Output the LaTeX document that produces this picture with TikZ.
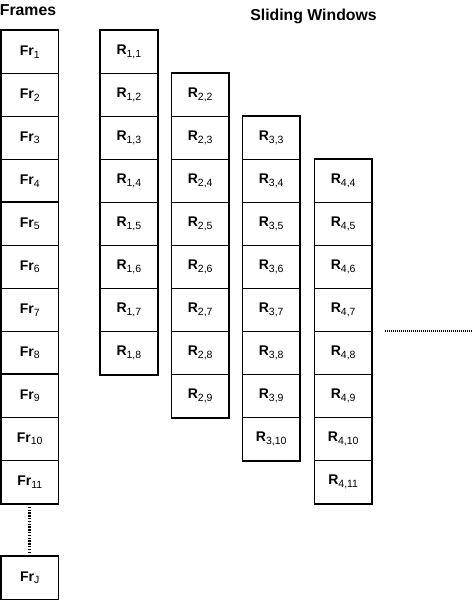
\documentclass[tikz,border=0pt]{standalone}
\usepackage{fontspec}
\setmainfont{Liberation Sans}
\begin{document}
\begin{tikzpicture}[x=1pt,y=-1pt,
  cell/.style={draw=black,line width=0.8pt,minimum width=57pt,minimum height=43pt,inner sep=0pt,anchor=north west,font=\fontsize{14}{16}\selectfont\bfseries},
  colframe/.style={draw=black,line width=1.6pt},
  ttl/.style={font=\fontsize{15.8}{18}\selectfont\bfseries,inner sep=0pt},
  dots/.style={line width=2.6pt,dash pattern=on 1.4pt off 1.4pt}]
\useasboundingbox (0,0) rectangle (472,600);
\fill[white] (0,0) rectangle (472,600);
\newcommand{\sub}[1]{\raisebox{-2.6pt}{\fontsize{10.5}{12}\selectfont\mdseries #1}}
% titles
\node[ttl] (tframes) at (28,10) {Frames};
\node[ttl] (tslide) at (313.5,16) {Sliding Windows};
% frames column
\foreach \i in {1,...,11}{
  \node[cell] (fr\i) at (0.8,{30+(\i-1)*43}) {Fr\sub{\i}};
}
\node[cell] (frJ) at (0.8,556) {Fr\sub{J}};
\draw[colframe] (fr1.north west) rectangle (fr11.south east);
\draw[colframe] (fr5.north west) -- (fr5.north east);
\draw[colframe] (fr9.north west) -- (fr9.north east);
\draw[colframe] (frJ.north west) rectangle (frJ.south east);
% sliding windows
\foreach \k/\xx in {1/100,2/171.3,3/242.3,4/314.3}{
  \pgfmathtruncatemacro{\last}{\k+7}
  \foreach \j in {\k,...,\last}{
    \node[cell] (r-\k-\j) at (\xx,{30+(\j-1)*43}) {R\sub{\k,\j}};
  }
  \draw[colframe] (r-\k-\k.north west) rectangle (r-\k-\last.south east);
}
% ellipses
\draw[dots,shorten <=3pt,shorten >=4pt] (fr11.south) -- (frJ.north);
\coordinate (dl) at (385,331);
\coordinate (dr) at (472,331);
\draw[line width=1.3pt,dash pattern=on 1pt off 1pt] (dl) -- (dr);
\end{tikzpicture}
\end{document}
